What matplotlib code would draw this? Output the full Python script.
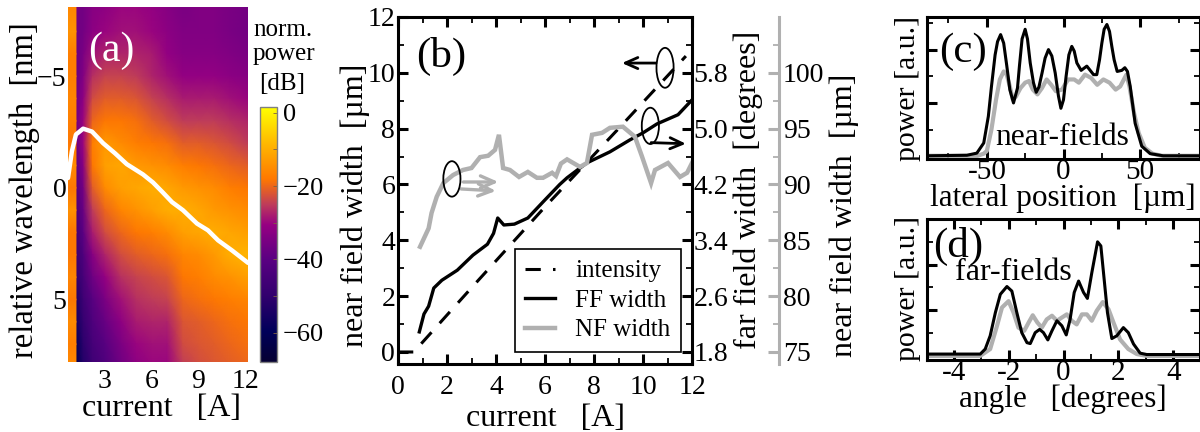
import numpy as np
import matplotlib
matplotlib.use('Agg')
import matplotlib.pyplot as plt
from matplotlib.colors import LinearSegmentedColormap
from matplotlib.patches import Ellipse
from matplotlib.ticker import MultipleLocator

# panel (a), coarse map read by eye
map_current = [1.14, 1.6, 2.2, 3, 4, 5, 6, 7, 8, 9, 10, 11, 12.17]
map_wavelength = [-8.2, -7, -6, -5, -4, -3, -2, -1, 0, 1, 2, 3, 4, 5, 6, 7, 8]
map_db = [
    [-36, -36, -33, -32, -30, -30, -31, -33, -35, -34, -34, -35, -36],
    [-37, -36, -32, -30, -29, -29, -30, -32, -34, -34, -34, -35, -36],
    [-38, -35, -29, -27, -27, -27, -28, -31, -33, -33, -33, -34, -35],
    [-38, -34, -26, -24, -24, -25, -27, -29, -31, -31, -31, -32, -33],
    [-37, -32, -23, -21, -21, -22, -24, -26, -28, -28, -28, -29, -30],
    [-37, -30, -20, -18, -18, -19, -21, -23, -25, -25, -25, -26, -27],
    [-38, -30, -17, -13, -15, -17, -18, -19, -21, -21, -22, -23, -25],
    [-40, -33, -18, -12, -11, -13, -14, -15, -17, -18, -19, -20, -21],
    [-42, -36, -21, -15, -12, -11, -10, -11, -13, -14, -15, -17, -18],
    [-44, -38, -25, -20, -16, -14, -12, -10, -10, -11, -13, -14, -15],
    [-46, -40, -28, -23, -20, -18, -17, -15, -12, -11, -10, -11, -12],
    [-48, -43, -33, -27, -23, -21, -20, -19, -16, -15, -13, -10, -9],
    [-50, -45, -37, -31, -26, -24, -23, -22, -18, -17, -15, -14, -12],
    [-54, -47, -41, -35, -29, -26, -25, -24, -20, -19, -18, -17, -16],
    [-56, -49, -43, -38, -32, -28, -27, -27, -22, -21, -20, -19, -18],
    [-60, -51, -45, -41, -35, -30, -29, -29, -23, -22, -21, -20, -19],
    [-62, -53, -47, -43, -37, -32, -30, -30, -25, -23, -22, -21, -20],
]
strip_db = [-16, -14, -17, -17, -16, -17, -18, -15, -18, -14, -18, -18, -16, -18, -15, -17, -15]
peak_current = [0.63, 0.88, 1.14, 1.6, 2.17, 2.88, 3.64, 4.4, 5.44, 6.08, 6.7, 7.3, 8.0, 8.9, 9.6, 10.25, 11.14, 12.17]
peak_wavelength = [-0.44, -1.64, -2.39, -2.65, -2.52, -2.0, -1.55, -1.06, -0.6, -0.24, 0.2, 0.64, 1.0, 1.6, 1.9, 2.35, 2.8, 3.36]

# panel (b)
int_current = [0, 0.7, 0.9, 3, 6, 9, 11.75]
intensity = [0, 0, 0.25, 2.3, 5.2, 8.0, 10.6]
ff_current = [0.87, 1.06, 1.25, 1.46, 1.79, 2.42, 3.06, 3.65, 3.9, 4.07, 4.32, 4.75, 5.3, 6, 6.6, 6.9, 7.7, 8.65, 9.47, 10, 10.57, 11.43, 12]
ff_width = [0.72, 1.36, 1.64, 2.29, 2.57, 2.93, 3.47, 3.86, 4.25, 4.8, 4.55, 4.58, 4.8, 5.45, 6.0, 6.24, 6.77, 7.17, 7.6, 7.85, 8.17, 8.5, 9.03]
nf_current = [0.9, 1.25, 1.37, 1.58, 1.85, 2.25, 2.65, 3.0, 3.35, 3.68, 3.96, 4.12, 4.29, 4.57, 4.94, 5.3, 5.67, 5.92, 6.29, 6.45, 6.65, 6.9, 7.43, 7.71, 7.92, 8.33, 8.65, 9.18, 9.67, 9.96, 10.33, 10.49, 11.02, 11.51, 11.8, 12]
nf_width = [3.77, 4.43, 4.98, 5.56, 6.05, 6.34, 6.52, 6.59, 6.98, 7.03, 7.24, 7.78, 6.59, 6.52, 6.27, 6.45, 6.24, 6.24, 6.42, 6.3, 6.75, 6.9, 6.63, 6.77, 7.78, 7.85, 8.03, 8.07, 7.71, 7.0, 6.05, 6.52, 6.77, 6.27, 6.42, 6.77]

# panel (c)
nf1_pos = [-89, -63, -56.5, -52, -49, -47, -44.6, -43, -41, -39, -37, -35, -32.6, -30, -28.7, -27, -25, -23.5, -21.7, -19.6, -17.8, -16, -14, -12, -9.8, -7.6, -5.4, -3.3, -1.7, 0, 1.7, 3.5, 5.4, 7, 8.7, 11.5, 15.2, 19.6, 21.7, 23.5, 25, 26.5, 28.3, 30, 31.5, 33, 35, 38, 40, 41.7, 43.5, 46.7, 51, 56.5, 65, 89]
nf1_power = [0.01, 0.02, 0.06, 0.25, 0.75, 1.3, 1.9, 2.15, 2.28, 2.12, 1.7, 1.25, 1.0, 1.28, 1.7, 2.2, 2.38, 2.2, 1.75, 1.38, 1.2, 1.3, 1.56, 1.84, 2.0, 1.88, 1.56, 1.13, 0.9, 1.06, 1.5, 1.9, 2.06, 1.97, 1.75, 1.61, 1.69, 1.53, 1.53, 1.81, 2.12, 2.38, 2.47, 2.34, 2.06, 1.81, 1.59, 1.61, 1.66, 1.59, 1.31, 0.62, 0.19, 0.05, 0.01, 0.01]
nf2_pos = [-89, -56, -52, -50, -47, -44, -41.5, -39, -37, -35, -33, -31, -28, -25, -22.5, -20, -17, -14, -11, -8, -5, -1, 3, 7, 10, 14, 18, 22, 26, 30, 34, 37, 41, 43, 46, 49, 53, 58, 64, 89]
nf2_power = [0.01, 0.01, 0.05, 0.1, 0.5, 1.06, 1.44, 1.59, 1.53, 1.31, 1.06, 1.12, 1.28, 1.38, 1.41, 1.25, 1.16, 1.28, 1.44, 1.34, 1.22, 1.25, 1.44, 1.44, 1.38, 1.53, 1.47, 1.34, 1.44, 1.38, 1.25, 1.31, 1.53, 1.31, 0.81, 0.44, 0.16, 0.05, 0.01, 0.01]

# panel (d)
ff1_angle = [-4.97, -3.03, -2.85, -2.67, -2.48, -2.3, -2.06, -1.88, -1.7, -1.52, -1.33, -1.21, -1.03, -0.87, -0.73, -0.57, -0.42, -0.24, -0.06, 0.1, 0.24, 0.39, 0.55, 0.73, 0.87, 1.03, 1.24, 1.36, 1.48, 1.6, 1.76, 1.94, 2.18, 2.36, 2.55, 2.79, 3.03, 4.97]
ff1_power = [0.04, 0.04, 0.15, 0.44, 0.95, 1.35, 1.52, 1.42, 0.95, 0.51, 0.29, 0.27, 0.51, 0.58, 0.51, 0.35, 0.55, 0.77, 0.66, 0.46, 0.8, 1.39, 1.64, 1.39, 1.26, 1.82, 2.5, 2.41, 1.68, 0.95, 0.38, 0.44, 0.62, 0.51, 0.26, 0.06, 0.03, 0.03]
ff2_angle = [-4.97, -3.03, -2.67, -2.42, -2.24, -2.0, -1.82, -1.64, -1.43, -1.27, -1.12, -0.95, -0.79, -0.61, -0.42, -0.24, -0.06, 0.12, 0.3, 0.48, 0.67, 0.85, 1.03, 1.21, 1.43, 1.64, 1.82, 2.06, 2.36, 2.67, 3.03, 4.97]
ff2_power = [0, 0, 0.15, 0.66, 1.06, 1.2, 0.95, 0.62, 0.55, 0.73, 0.89, 0.73, 0.62, 0.8, 0.88, 0.77, 0.84, 0.91, 0.77, 0.69, 0.91, 0.91, 0.77, 0.99, 1.18, 1.02, 0.73, 0.36, 0.15, 0.04, 0, 0]

plt.rcParams['font.family'] = ['Liberation Serif', 'DejaVu Serif']
plt.rcParams['font.size'] = 20
GRAY = '#b0b0b0'
W, H = 1200, 432


def px_axes(fig, left, top, right, bottom):
    return fig.add_axes([left / W, 1 - bottom / H, (right - left) / W, (bottom - top) / H])


def px_text(fig, x, y, s, **kw):
    kw.setdefault('ha', 'center')
    kw.setdefault('va', 'center')
    fig.text(x / W, 1 - y / H, s, **kw)


def frame(ax, lw=2.2):
    for s in ax.spines.values():
        s.set_linewidth(lw)
    ax.tick_params(which='both', direction='in', top=True, right=True, width=lw)
    ax.tick_params(which='major', length=7)
    ax.tick_params(which='minor', length=4, width=1.3)


fig = plt.figure(figsize=(12, 4.32), dpi=100)

# (a)
cmap = LinearSegmentedColormap.from_list('power', [
    (0.0, '#050032'), (0.12, '#00005a'), (0.26, '#32006e'), (0.40, '#5a0082'),
    (0.54, '#960082'), (0.62, '#be3c5a'), (0.72, '#ff7800'), (0.85, '#ffb400'), (1.0, '#ffff00')])
axa = px_axes(fig, 68, 7, 248, 362)
mesh = axa.pcolormesh(map_current, map_wavelength, np.array(map_db), cmap=cmap, vmin=-68, vmax=1.6, shading='gouraud')
axa.pcolormesh([0.63, 1.14], map_wavelength, np.array([strip_db, strip_db]).T, cmap=cmap, vmin=-68, vmax=1.6, shading='gouraud')
axa.plot(peak_current, peak_wavelength, color='white', lw=3.2, solid_capstyle='round')
axa.set_xlim(0.63, 12.17)
axa.set_ylim(7.8, -8.1)
axa.set_xticks([3, 6, 9, 12])
axa.set_yticks([-5, 0, 5])
axa.set_yticklabels(['\u22125', '0', '5'])
axa.tick_params(axis='x', length=0, pad=5)
axa.tick_params(axis='y', length=0, pad=1)
for s in axa.spines.values():
    s.set_visible(False)
axa.text(3.39, -6.15, '(a)', color='white', fontsize=30, ha='center', va='center')
px_text(fig, 25, 190, 'relative wavelength  [nm]', rotation=90, fontsize=23.5)
px_text(fig, 161, 408, 'current   [A]', fontsize=23)

cax = px_axes(fig, 260, 107, 277, 362)
cb = fig.colorbar(mesh, cax=cax)
cb.set_ticks([0, -20, -40, -60])
cb.set_ticklabels(['0', '\u221220', '\u221240', '\u221260'])
cax.yaxis.set_minor_locator(MultipleLocator(10))
cax.tick_params(which='both', direction='in', color='#806040', length=3, width=0.6, pad=4, labelsize=19)
cb.outline.set_edgecolor('#808080')
cb.outline.set_linewidth(1)
px_text(fig, 253, 30, 'norm.', ha='left', fontsize=18)
px_text(fig, 253, 54, 'power', ha='left', fontsize=18)
px_text(fig, 259, 84, '[dB]', ha='left', fontsize=18)

# (b)
axb = px_axes(fig, 398, 17, 692, 364)
axb.plot(int_current, intensity, 'k--', lw=2.2, dashes=(5, 4), label='intensity')
axb.plot(ff_current, ff_width, 'k-', lw=2.4, label='FF width')
axb.plot(nf_current, nf_width, color=GRAY, lw=3.2, label='NF width', solid_joinstyle='miter')
axb.set_xlim(0, 12)
axb.set_ylim(-0.43, 12)
axb.xaxis.set_major_locator(MultipleLocator(2))
axb.xaxis.set_minor_locator(MultipleLocator(1))
axb.yaxis.set_major_locator(MultipleLocator(2))
axb.yaxis.set_minor_locator(MultipleLocator(1))
frame(axb)
axb.tick_params(axis='y', right=False, which='both', pad=2)
axb.tick_params(axis='x', pad=8)
axb.text(1.75, 10.6, '(b)', fontsize=31, ha='center', va='center')
leg = axb.legend(loc='lower right', bbox_to_anchor=(0.963, 0.035), fontsize=18, frameon=True, fancybox=False,
                 edgecolor='k', framealpha=1, borderpad=0.42, labelspacing=0.28, handlelength=1.2, borderaxespad=0, handletextpad=0.8)
leg.get_frame().set_linewidth(1.2)

for cx, cy, ew, eh in [(2.2, 6.2, 0.7, 1.27), (10.9, 10.18, 0.7, 1.43), (10.3, 8.1, 0.7, 1.3)]:
    axb.add_patch(Ellipse((cx, cy), ew, eh, fill=False, ec='k', lw=1.3, zorder=5))
gray_arrow = dict(arrowstyle='->,head_length=0.5,head_width=0.22', color=GRAY, lw=2.4, shrinkA=0, shrinkB=0)
black_arrow = dict(arrowstyle='->,head_length=0.45,head_width=0.2', color='k', lw=2.0, shrinkA=0, shrinkB=0)
axb.annotate('', xy=(4.1, 6.09), xytext=(2.67, 6.09), arrowprops=gray_arrow)
axb.annotate('', xy=(4.0, 5.77), xytext=(2.58, 5.84), arrowprops=gray_arrow)
axb.annotate('', xy=(9.14, 10.35), xytext=(10.53, 10.35), arrowprops=black_arrow)
axb.annotate('', xy=(11.75, 7.46), xytext=(10.33, 7.5), arrowprops=black_arrow)

axf = axb.twinx()
axf.set_ylim(1.8 + 0.4 * -0.43, 1.8 + 0.4 * 12)
axf.set_yticks([1.8, 2.6, 3.4, 4.2, 5.0, 5.8])
axf.set_yticks([2.2, 3.0, 3.8, 4.6, 5.4, 6.2], minor=True)
axf.tick_params(axis='y', which='major', direction='in', width=2.2, length=7, pad=1)
axf.tick_params(axis='y', which='minor', direction='in', width=1.3, length=4)

axn = axb.twinx()
axn.spines['right'].set_position(('outward', 62.5))
for name in ['top', 'left', 'bottom']:
    axn.spines[name].set_visible(False)
axn.spines['right'].set_color(GRAY)
axn.spines['right'].set_linewidth(2.2)
axn.set_ylim(75 + 2.5 * -0.43, 75 + 2.5 * 12)
axn.set_yticks([75, 80, 85, 90, 95, 100])
axn.set_yticks([77.5, 82.5, 87.5, 92.5, 97.5, 102.5], minor=True)
axn.tick_params(axis='y', which='major', direction='in', color=GRAY, width=2.2, length=8, pad=3)
axn.tick_params(axis='y', which='minor', direction='in', color=GRAY, width=1.3, length=4)

px_text(fig, 355, 205, 'near field width  [\u00b5m]', rotation=90, fontsize=23)
px_text(fig, 748, 190, 'far field width  [degrees]', rotation=90, fontsize=23)
px_text(fig, 844, 215, 'near field width  [\u00b5m]', rotation=90, fontsize=23)
px_text(fig, 546, 419, 'current   [A]', fontsize=23)

# (c)
axc = px_axes(fig, 927, 17, 1200, 159)
axc.plot(nf2_pos, nf2_power, color=GRAY, lw=3.0)
axc.plot(nf1_pos, nf1_power, 'k-', lw=2.2)
axc.set_xlim(-89, 89)
axc.set_ylim(-0.05, 2.61)
axc.set_xticks([-50, 0, 50])
axc.xaxis.set_minor_locator(MultipleLocator(25))
axc.set_xticklabels(['-50', '0', '50'], fontsize=21)
axc.set_yticks([1, 2])
axc.set_yticks([0.5, 1.5, 2.5], minor=True)
axc.set_yticklabels([])
frame(axc)
axc.tick_params(axis='x', pad=0)
axc.text(-65.5, 1.96, '(c)', fontsize=31, ha='center', va='center')
axc.text(-1, 0.36, 'near-fields', fontsize=22.7, ha='center', va='center')
px_text(fig, 908, 88, 'power [a.u.]', rotation=90, fontsize=21.5)
px_text(fig, 1063, 198, 'lateral position  [\u00b5m]', fontsize=22.5)

# (d)
axd = px_axes(fig, 927, 219, 1200, 360)
axd.plot(ff2_angle, ff2_power, color=GRAY, lw=3.0)
axd.plot(ff1_angle, ff1_power, 'k-', lw=2.2)
axd.set_xlim(-4.97, 4.97)
axd.set_ylim(-0.09, 3.0)
axd.set_xticks([-4, -2, 0, 2, 4])
axd.xaxis.set_minor_locator(MultipleLocator(1))
axd.set_xticklabels(['-4', '-2', '0', '2', '4'], fontsize=21)
axd.set_yticks([1, 2])
axd.set_yticks([0.5, 1.5, 2.5], minor=True)
axd.set_yticklabels([])
frame(axd)
axd.tick_params(axis='x', pad=0)
axd.text(-3.85, 2.4, '(d)', fontsize=31, ha='center', va='center')
axd.text(-1.84, 1.82, 'far-fields', fontsize=23, ha='center', va='center')
px_text(fig, 908, 288, 'power [a.u.]', rotation=90, fontsize=21.5)
px_text(fig, 1063, 399, 'angle   [degrees]', fontsize=22.5)

fig.savefig('out.png', dpi=100)
